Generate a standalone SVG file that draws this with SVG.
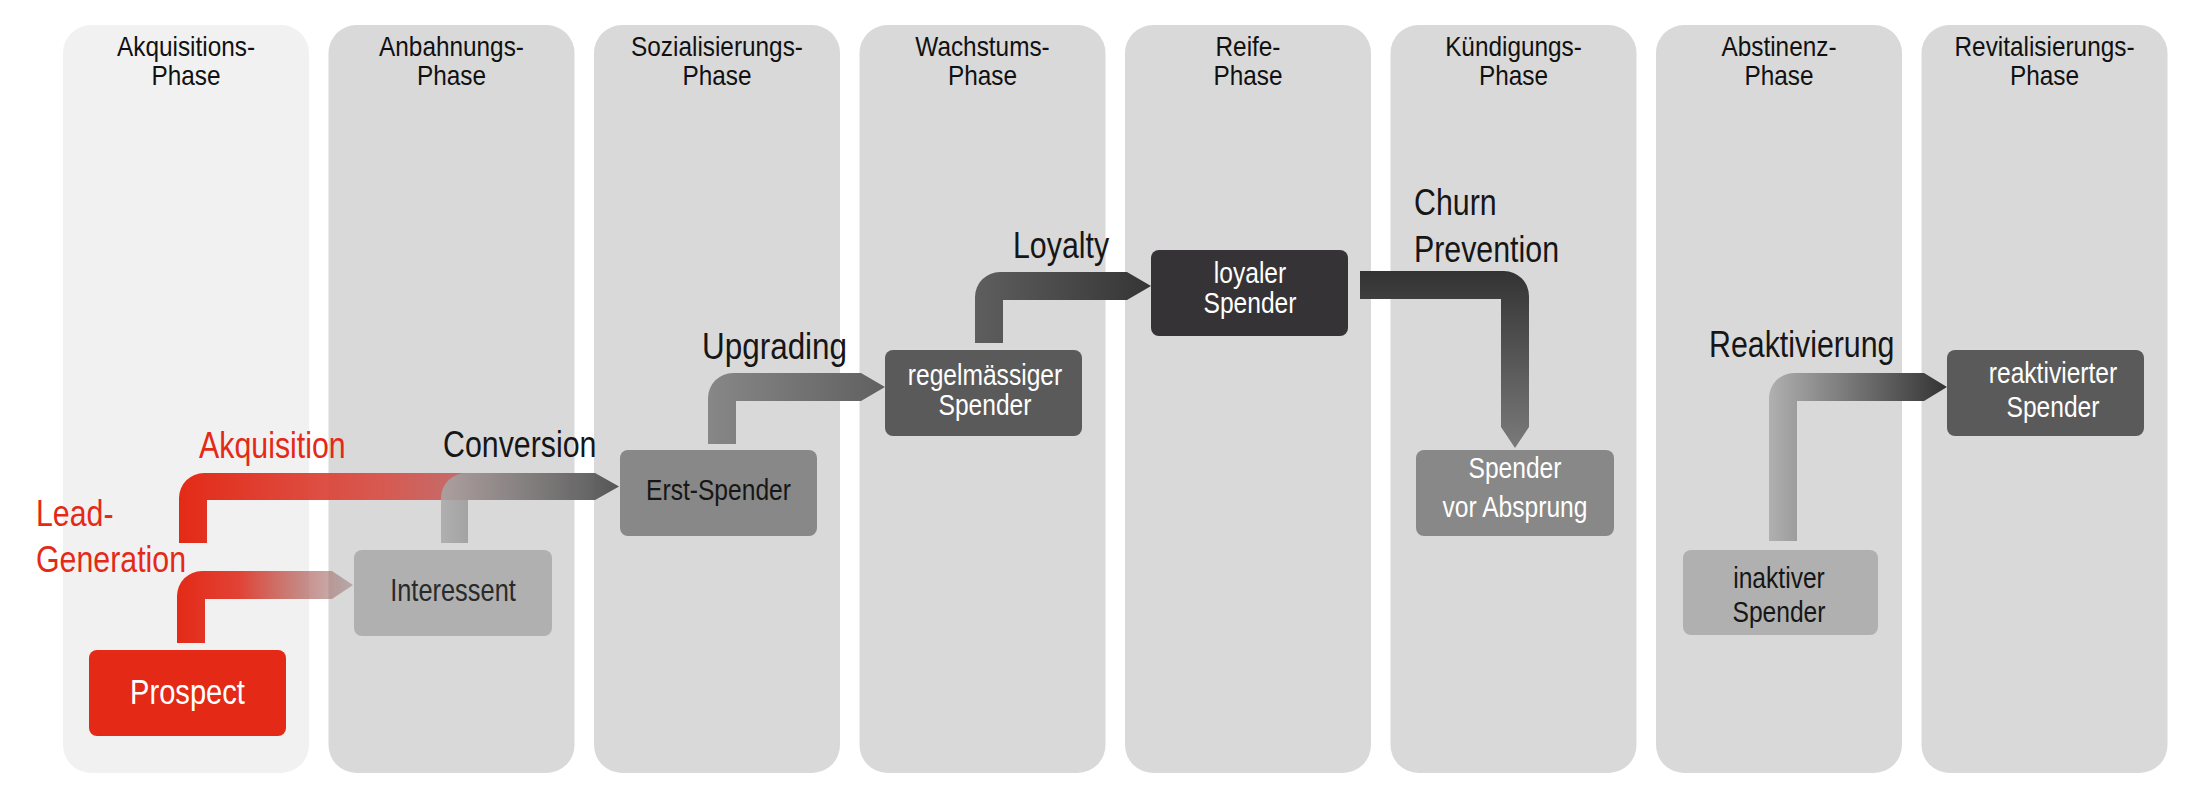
<svg xmlns="http://www.w3.org/2000/svg" width="2208" height="801" viewBox="0 0 2208 801">
<style>
text{font-family:"Liberation Sans",Arial,sans-serif}
.col{fill:#d9d9d9}
.col1{fill:#f1f1f1}
.ttl{font-size:28px;fill:#111;text-anchor:middle}
.lbl{font-size:37px;fill:#161616}
.red{fill:#e42a17}
.nt{font-size:30px;text-anchor:middle}
.w{fill:#fff}
.k{fill:#161616}
</style>
<defs>
<linearGradient id="gLead" gradientUnits="userSpaceOnUse" x1="177" y1="0" x2="353" y2="0">
<stop offset="0" stop-color="#e42a17"/>
<stop offset="0.35" stop-color="#e0392b" stop-opacity="0.95"/>
<stop offset="1" stop-color="#907878" stop-opacity="0.5"/>
</linearGradient>
<linearGradient id="gAkq" gradientUnits="userSpaceOnUse" x1="179" y1="0" x2="619" y2="0">
<stop offset="0" stop-color="#e42a17"/>
<stop offset="0.45" stop-color="#d84a40" stop-opacity="0.9"/>
<stop offset="0.7" stop-color="#b85050" stop-opacity="0.75"/>
<stop offset="1" stop-color="#6a5a5a" stop-opacity="0.2"/>
</linearGradient>
<linearGradient id="gConv" gradientUnits="userSpaceOnUse" x1="441" y1="0" x2="619" y2="0">
<stop offset="0" stop-color="#a8a8a8" stop-opacity="0.85"/>
<stop offset="1" stop-color="#505050" stop-opacity="0.95"/>
</linearGradient>
<linearGradient id="gUp" gradientUnits="userSpaceOnUse" x1="708" y1="0" x2="885" y2="0">
<stop offset="0" stop-color="#878787"/>
<stop offset="1" stop-color="#606060"/>
</linearGradient>
<linearGradient id="gLoy" gradientUnits="userSpaceOnUse" x1="975" y1="0" x2="1151" y2="0">
<stop offset="0" stop-color="#5e5e5e"/>
<stop offset="1" stop-color="#353535"/>
</linearGradient>
<linearGradient id="gChurn" gradientUnits="userSpaceOnUse" x1="0" y1="271" x2="0" y2="448">
<stop offset="0" stop-color="#333333"/>
<stop offset="1" stop-color="#7a7a7a"/>
</linearGradient>
<linearGradient id="gReak" gradientUnits="userSpaceOnUse" x1="1769" y1="0" x2="1947" y2="0">
<stop offset="0" stop-color="#b0b0b0"/>
<stop offset="1" stop-color="#333333"/>
</linearGradient>
</defs>
<rect width="2208" height="801" fill="#fff"/>

<g id="phases">
<g id="phase-akquisition"><rect class="col1" x="63" y="25" width="246" height="748" rx="28"/><text class="ttl" transform="translate(186 56) scale(.87 1)">Akquisitions-</text><text class="ttl" transform="translate(186 85) scale(.87 1)">Phase</text></g>
<g id="phase-anbahnung"><rect class="col" x="328.5" y="25" width="246" height="748" rx="28"/><text class="ttl" transform="translate(451.5 56) scale(.87 1)">Anbahnungs-</text><text class="ttl" transform="translate(451.5 85) scale(.87 1)">Phase</text></g>
<g id="phase-sozialisierung"><rect class="col" x="594" y="25" width="246" height="748" rx="28"/><text class="ttl" transform="translate(717 56) scale(.87 1)">Sozialisierungs-</text><text class="ttl" transform="translate(717 85) scale(.87 1)">Phase</text></g>
<g id="phase-wachstum"><rect class="col" x="859.5" y="25" width="246" height="748" rx="28"/><text class="ttl" transform="translate(982.5 56) scale(.87 1)">Wachstums-</text><text class="ttl" transform="translate(982.5 85) scale(.87 1)">Phase</text></g>
<g id="phase-reife"><rect class="col" x="1125" y="25" width="246" height="748" rx="28"/><text class="ttl" transform="translate(1248 56) scale(.87 1)">Reife-</text><text class="ttl" transform="translate(1248 85) scale(.87 1)">Phase</text></g>
<g id="phase-kuendigung"><rect class="col" x="1390.5" y="25" width="246" height="748" rx="28"/><text class="ttl" transform="translate(1513.5 56) scale(.87 1)">Kündigungs-</text><text class="ttl" transform="translate(1513.5 85) scale(.87 1)">Phase</text></g>
<g id="phase-abstinenz"><rect class="col" x="1656" y="25" width="246" height="748" rx="28"/><text class="ttl" transform="translate(1779 56) scale(.87 1)">Abstinenz-</text><text class="ttl" transform="translate(1779 85) scale(.87 1)">Phase</text></g>
<g id="phase-revitalisierung"><rect class="col" x="1921.5" y="25" width="246" height="748" rx="28"/><text class="ttl" transform="translate(2044.5 56) scale(.87 1)">Revitalisierungs-</text><text class="ttl" transform="translate(2044.5 85) scale(.87 1)">Phase</text></g>
</g>

<g id="connectors">
<path id="c-lead" fill="url(#gLead)" d="M177,643 L177,596 A25,25 0 0 1 202,571 L332,571 L353,585 L332,599 L205,599 L205,643 Z"/>
<path id="c-akq" fill="url(#gAkq)" d="M179,543 L179,498 A25,25 0 0 1 204,473 L595,473 L619,486.5 L595,500 L207,500 L207,543 Z"/>
<path id="c-conv" fill="url(#gConv)" d="M441,543 L441,498 A25,25 0 0 1 466,473 L595,473 L619,486.5 L595,500 L468,500 L468,543 Z"/>
<path id="c-up" fill="url(#gUp)" d="M708,444 L708,398 A25,25 0 0 1 733,373 L861,373 L885,387 L861,401 L736,401 L736,444 Z"/>
<path id="c-loy" fill="url(#gLoy)" d="M975,343 L975,297 A25,25 0 0 1 1000,272 L1127,272 L1151,286 L1127,300 L1003,300 L1003,343 Z"/>
<path id="c-churn" fill="url(#gChurn)" d="M1360,271 L1504,271 A25,25 0 0 1 1529,296 L1529,427 L1515,448 L1501,427 L1501,299 L1360,299 Z"/>
<path id="c-reak" fill="url(#gReak)" d="M1769,541 L1769,398 A25,25 0 0 1 1794,373 L1924,373 L1947,387 L1924,401 L1797,401 L1797,541 Z"/>
</g>

<g id="labels">
<text class="lbl red" transform="translate(36 526) scale(.82 1)">Lead-</text>
<text class="lbl red" transform="translate(36 572) scale(.82 1)">Generation</text>
<text class="lbl red" transform="translate(199 458) scale(.82 1)">Akquisition</text>
<text class="lbl" transform="translate(443 457) scale(.82 1)">Conversion</text>
<text class="lbl" transform="translate(702 359) scale(.85 1)">Upgrading</text>
<text class="lbl" transform="translate(1013 258) scale(.82 1)">Loyalty</text>
<text class="lbl" transform="translate(1414 215) scale(.82 1)">Churn</text>
<text class="lbl" transform="translate(1414 262) scale(.82 1)">Prevention</text>
<text class="lbl" transform="translate(1709 357) scale(.82 1)">Reaktivierung</text>
</g>

<g id="node-prospect"><rect x="89" y="650" width="197" height="86" rx="8" fill="#e42a17"/><text class="nt w" transform="translate(187.5 704) scale(.82 1)" style="font-size:35.5px">Prospect</text></g>
<g id="node-interessent"><rect x="354" y="550" width="198" height="86" rx="8" fill="#b0b0b0"/><text class="nt" transform="translate(453 601) scale(.82 1)" style="font-size:31px;fill:#2a2a2a">Interessent</text></g>
<g id="node-erst-spender"><rect x="620" y="450" width="197" height="86" rx="8" fill="#888888"/><text class="nt k" transform="translate(718.5 500) scale(.82 1)">Erst-Spender</text></g>
<g id="node-regelmaessig"><rect x="885" y="350" width="197" height="86" rx="8" fill="#5a5a5a"/><text class="nt w" transform="translate(985 385) scale(.82 1)">regelmässiger</text><text class="nt w" transform="translate(985 415) scale(.82 1)">Spender</text></g>
<g id="node-loyal"><rect x="1151" y="250" width="197" height="86" rx="8" fill="#353335"/><text class="nt w" transform="translate(1250 283) scale(.82 1)">loyaler</text><text class="nt w" transform="translate(1250 313) scale(.82 1)">Spender</text></g>
<g id="node-absprung"><rect x="1416" y="450" width="198" height="86" rx="8" fill="#888888"/><text class="nt w" transform="translate(1515 478) scale(.82 1)">Spender</text><text class="nt w" transform="translate(1515 517) scale(.82 1)">vor Absprung</text></g>
<g id="node-inaktiv"><rect x="1683" y="550" width="195" height="85" rx="8" fill="#b0b0b0"/><text class="nt k" transform="translate(1779 588) scale(.82 1)">inaktiver</text><text class="nt k" transform="translate(1779 622) scale(.82 1)">Spender</text></g>
<g id="node-reaktiviert"><rect x="1947" y="350" width="197" height="86" rx="8" fill="#5a5a5a"/><text class="nt w" transform="translate(2053 383) scale(.82 1)">reaktivierter</text><text class="nt w" transform="translate(2053 417) scale(.82 1)">Spender</text></g>
</svg>
